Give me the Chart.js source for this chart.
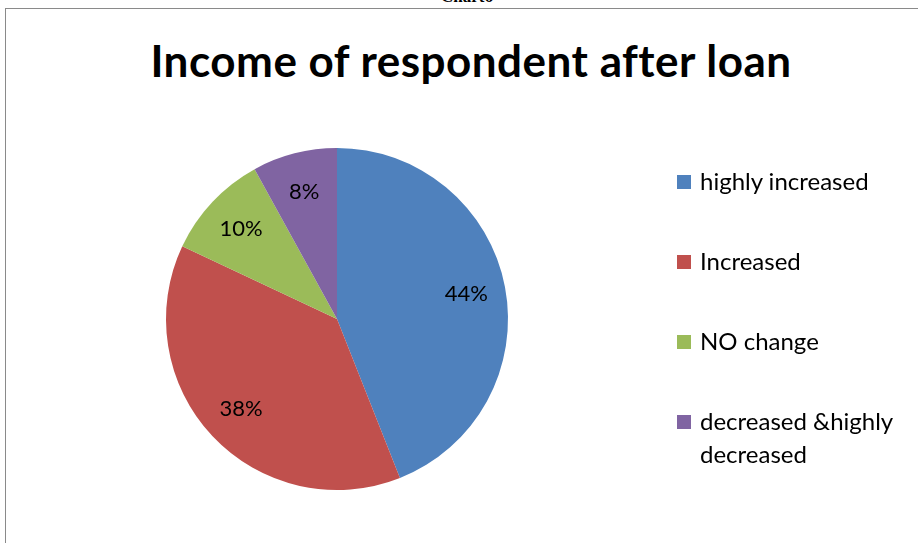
<!DOCTYPE html>
<html>
<head>
<meta charset="utf-8">
<script src="https://cdn.jsdelivr.net/npm/chart.js@4/dist/chart.umd.min.js"></script>
<style>
  html, body { margin: 0; padding: 0; background: #fff; }
  #wrap { position: relative; width: 918px; height: 543px; overflow: hidden; background: #fff; }
  #frame { position: absolute; left: 5px; top: 8px; width: 1000px; height: 600px; border: 1.5px solid #8a8a8a; box-sizing: border-box; }
  #cap { position: absolute; left: 0; width: 918px; top: -13px; text-align: center; font: bold 17px "Liberation Serif", serif; color: #000; padding-left: 16px; box-sizing: border-box; }
  #title { position: absolute; left: 0; width: 918px; top: 34px; line-height: 44px; text-align: center; font: bold 44px Lato, "Open Sans", sans-serif; letter-spacing: 0.5px; color: #000; padding-left: 24px; box-sizing: border-box; }
  #chart { position: absolute; left: 0; top: 0; }
  #legend { position: absolute; left: 677px; top: 170px; font: 24px Lato, "Open Sans", sans-serif; color: #000; }
  .item { position: absolute; left: 0; white-space: nowrap; }
  .sw { position: absolute; left: 0; width: 14px; height: 14px; }
  .txt { position: absolute; left: 23px; line-height: 33px; }
</style>
</head>
<body>
<div id="wrap">
  <div id="frame"></div>
  <div id="cap">Chart6</div>
  <div id="title">Income of respondent after loan</div>
  <canvas id="chart" width="918" height="543"></canvas>
  <div id="legend"></div>
</div>
<script>
(() => {
    'use strict';

    // ── Data ─────────────────────────────────────────────────────────────────
    const categories = ['highly increased', 'Increased', 'NO change', 'decreased &highly\ndecreased'];
    const shares = [44, 38, 10, 8];
    const colors = ['#4F81BD', '#C0504D', '#9BBB59', '#8064A2'];

    // Percent labels drawn inside each slice
    const sliceLabels = {
        id: 'sliceLabels',
        afterDatasetsDraw(chart) {
            const ctx = chart.ctx;
            const meta = chart.getDatasetMeta(0);
            const total = shares.reduce((a, b) => a + b, 0);
            ctx.save();
            ctx.font = '22px Lato, "Open Sans", sans-serif';
            ctx.fillStyle = '#000';
            ctx.textAlign = 'center';
            ctx.textBaseline = 'middle';
            meta.data.forEach((arc, i) => {
                const { x, y, startAngle, endAngle, outerRadius } = arc.getProps(['x', 'y', 'startAngle', 'endAngle', 'outerRadius'], true);
                const mid = (startAngle + endAngle) / 2;
                const r = outerRadius * 0.77;
                const pct = Math.round(shares[i] / total * 100) + '%';
                ctx.fillText(pct, x + Math.cos(mid) * r, y + Math.sin(mid) * r);
            });
            ctx.restore();
        }
    };

    new Chart(document.getElementById('chart').getContext('2d'), {
        type: 'pie',
        data: {
            labels: categories,
            datasets: [{
                data: shares,
                backgroundColor: colors,
                borderWidth: 0
            }]
        },
        options: {
            responsive: false,
            animation: false,
            layout: { padding: { left: 166, right: 410, top: 148, bottom: 53 } },
            plugins: {
                legend: { display: false },
                tooltip: { enabled: false },
                title: { display: false }
            }
        },
        plugins: [sliceLabels]
    });

    // ── Legend (HTML, built from the same arrays) ───────────────────────────
    const legendEl = document.getElementById('legend');
    const ITEM_STEP = 80;
    categories.forEach((name, i) => {
        const item = document.createElement('div');
        item.className = 'item';
        item.style.top = (i * ITEM_STEP) + 'px';
        const sw = document.createElement('div');
        sw.className = 'sw';
        sw.style.background = colors[i];
        sw.style.top = '5px';
        const txt = document.createElement('div');
        txt.className = 'txt';
        txt.style.top = '-6px';
        txt.innerHTML = name.split('\n').join('<br>');
        item.appendChild(sw);
        item.appendChild(txt);
        legendEl.appendChild(item);
    });
})();
</script>
</body>
</html>
